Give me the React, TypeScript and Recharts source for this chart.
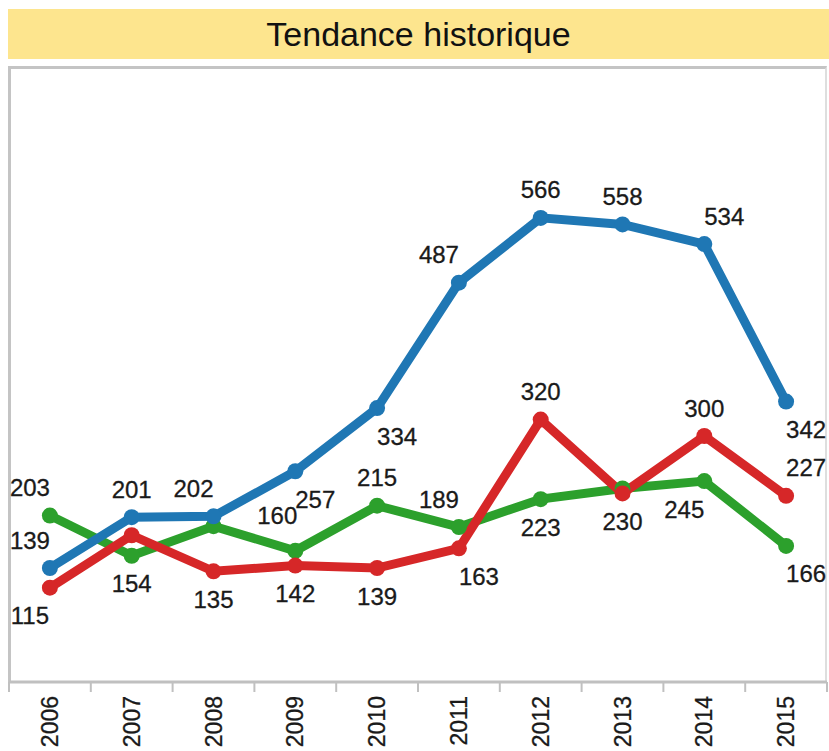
import React from 'react';
import { LineChart, Line, XAxis, YAxis, LabelList } from 'recharts';

const years = ['2006', '2007', '2008', '2009', '2010', '2011', '2012', '2013', '2014', '2015'];
const blueValues = [139, 201, 202, 257, 334, 487, 566, 558, 534, 342];
const redValues = [115, 179, 135, 142, 139, 163, 320, 230, 300, 227];
const greenValues = [203, 154, 190, 160, 215, 189, 223, 236, 245, 166];
const tickBounds = [0, 1, 2, 3, 4, 5, 6, 7, 8, 9, 10];

// label placement codes (null = label not shown)
const blueLabelPos = ['tl', 't', 'tl', 'br', 'br', 'tl', 't', 't', 'tr', 'br'];
const redLabelPos = ['bl', null, 'b', 'b', 'b', 'br', 't', 'b', 't', 'tr'];
const greenLabelPos = ['tl', 'b', null, 'tlh', 't', 'tl', 'b', null, 'bl', 'br'];

const W = 829;
const H = 751;
const M = { top: 67, right: 2, left: 9, bottom: 0 };
const AXIS_H = 69;
const BW = (W - M.left - M.right) / years.length;

const OFF: Record<string, [number, number]> = {
  t: [0, -28],
  b: [0, 28],
  tl: [-20, -28],
  tlh: [-18, -35],
  tr: [20, -28],
  bl: [-20, 28],
  br: [20, 28],
};

const data = years.map((y, i) => ({
  x: i + 0.5,
  year: y,
  blue: blueValues[i],
  red: redValues[i],
  green: greenValues[i],
}));

const FONT = '"Liberation Sans", Arial, sans-serif';

const makeLabel = (positions: (string | null)[]) => (p: any) => {
  const pos = positions[p.index];
  if (!pos) return null;
  const [dx, dy] = OFF[pos];
  return (
    <text
      x={p.x + dx}
      y={p.y + dy}
      textAnchor="middle"
      dominantBaseline="central"
      fontFamily={FONT}
      fontSize={24}
      fill="#1a1a1a"
      stroke="#1a1a1a"
      strokeWidth={0.3}
    >
      {p.value}
    </text>
  );
};

const YearTick = (props: any) => {
  const { x, y, payload } = props;
  const v = payload.value;
  if (v >= years.length) return <g />;
  const cx = x + BW / 2;
  const ty = y + 2;
  return (
    <text
      x={cx}
      y={ty}
      transform={`rotate(-90, ${cx}, ${ty})`}
      textAnchor="end"
      dominantBaseline="central"
      fontFamily={FONT}
      fontSize={23}
      fill="#1a1a1a"
      stroke="#1a1a1a"
      strokeWidth={0.3}
    >
      {years[v]}
    </text>
  );
};

const series = [
  { key: 'green', color: '#2ca02c', pos: greenLabelPos },
  { key: 'red', color: '#d62728', pos: redLabelPos },
  { key: 'blue', color: '#1f77b4', pos: blueLabelPos },
];

export default function App() {
  return (
    <div style={{ position: 'absolute', left: 0, top: 0, width: W, height: H, background: '#fff' }}>
      <div
        style={{
          position: 'absolute',
          left: 8,
          top: 9,
          width: 821,
          height: 50,
          background: '#FDE58E',
          fontFamily: FONT,
          fontSize: 34,
          lineHeight: '50px',
          textAlign: 'center',
          color: '#111',
        }}
      >
        Tendance historique
      </div>
      <div
        style={{
          position: 'absolute',
          left: 8,
          top: 66,
          width: 819,
          height: 617,
          boxSizing: 'border-box',
          borderTop: '3px solid #c4c4c4',
          borderLeft: '3px solid #c4c4c4',
          borderRight: '2px solid #dedede',
        }}
      />
      <div style={{ position: 'absolute', left: 0, top: 0 }}>
        <LineChart width={W} height={H} data={data} margin={M}>
          <XAxis
            type="number"
            dataKey="x"
            domain={[0, 10]}
            ticks={tickBounds}
            interval={0}
            height={AXIS_H}
            axisLine={{ stroke: '#c0c0c0', strokeWidth: 3 }}
            tickLine={{ stroke: '#c0c0c0', strokeWidth: 2 }}
            tickSize={10}
            tick={<YearTick />}
          />
          <YAxis hide domain={[0, 750]} />
          {series.map((s) => (
            <Line
              key={s.key}
              dataKey={s.key}
              stroke={s.color}
              strokeWidth={9}
              type="linear"
              dot={{ r: 8, fill: s.color, stroke: s.color, strokeWidth: 0 }}
              activeDot={false}
              isAnimationActive={false}
            >
              <LabelList dataKey={s.key} content={makeLabel(s.pos)} />
            </Line>
          ))}
        </LineChart>
      </div>
    </div>
  );
}
